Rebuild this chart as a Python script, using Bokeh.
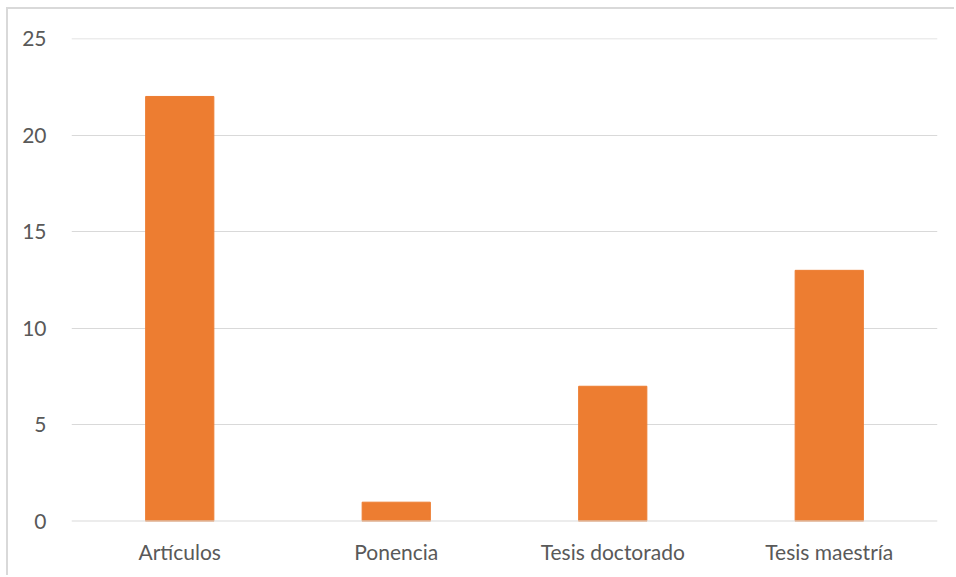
from bokeh.plotting import figure
from bokeh.models import Range1d, FactorRange, Span
from bokeh.embed import file_html
from bokeh.resources import INLINE

categories = ["Artículos", "Ponencia", "Tesis doctorado", "Tesis maestría"]
values = [22, 1, 7, 13]
y_ticks = [0, 5, 10, 15, 20, 25]

p = figure(x_range=FactorRange(*categories, range_padding=0), y_range=Range1d(0, 25),
           width=948, height=568, output_backend="svg", toolbar_location=None,
           min_border_left=63, min_border_right=19, min_border_top=29, min_border_bottom=56)
p.styles = {"position": "absolute", "left": "6px", "top": "7px",
            "border-left": "2px solid #d9d9d9", "border-top": "2px solid #d9d9d9"}
p.vbar(x=categories, top=values, width=0.315, color="#ED7D31")

p.outline_line_color = None
p.background_fill_color = "white"
p.border_fill_color = "white"
p.xgrid.grid_line_color = None
p.ygrid.grid_line_color = "#d9d9d9"
p.ygrid.grid_line_width = 1
p.ygrid.ticker = y_ticks
p.yaxis.ticker = y_ticks

for ax in (p.xaxis, p.yaxis):
    ax.axis_line_color = None
    ax.major_tick_line_color = None
    ax.minor_tick_line_color = None
    ax.major_label_text_font = "Lato"
    ax.major_label_text_font_size = "21px"
    ax.major_label_text_color = "#595959"
p.yaxis.major_label_standoff = 19
p.xaxis.major_label_standoff = 11

p.add_layout(Span(location=0, dimension="width", line_color="#d9d9d9", line_width=2))
p.add_layout(Span(location=y_ticks[-1], dimension="width", line_color="#d9d9d9", line_width=1.5))

open("out.html", "w").write(file_html(p, INLINE))
